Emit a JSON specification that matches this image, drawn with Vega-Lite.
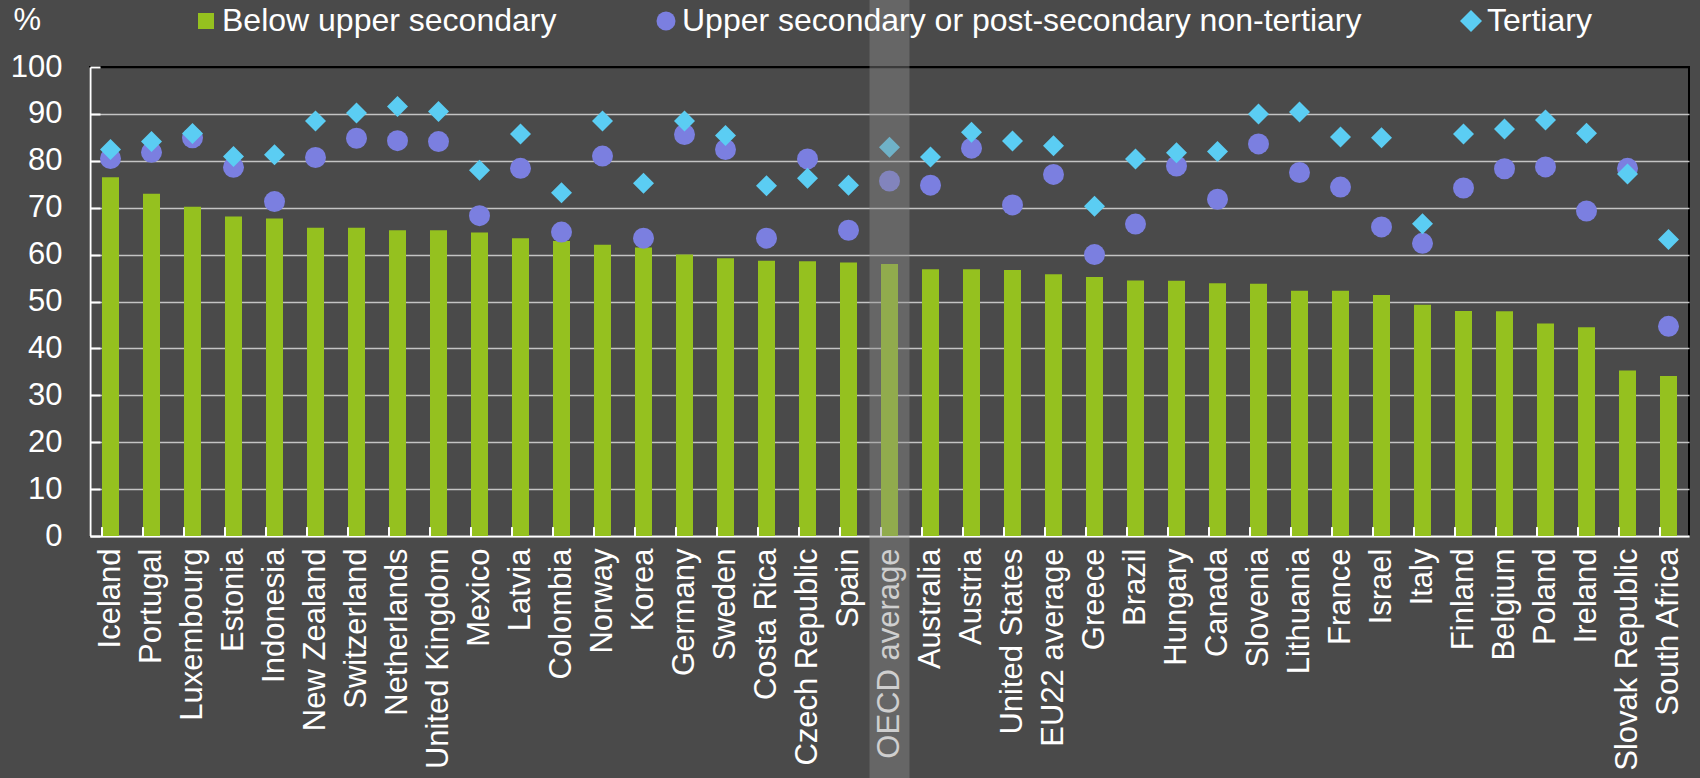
{
  "$schema": "https://vega.github.io/schema/vega-lite/v6.json",
  "width": 1599,
  "height": 469,
  "autosize": "none",
  "padding": {"left": 90, "top": 67, "right": 11, "bottom": 242},
  "background": "#4a4a4a",
  "config": {
    "font": "Liberation Sans",
    "view": {"fill": "#4a4a4a", "stroke": "#000000", "strokeWidth": 2}
  },
  "data": {
    "values": [
      {"country": "Iceland", "below": 76.5, "upper": 80.5, "tertiary": 82.4},
      {"country": "Portugal", "below": 73.0, "upper": 81.8, "tertiary": 84.1},
      {"country": "Luxembourg", "below": 70.2, "upper": 84.9, "tertiary": 85.8},
      {"country": "Estonia", "below": 68.1, "upper": 78.6, "tertiary": 80.9},
      {"country": "Indonesia", "below": 67.7, "upper": 71.3, "tertiary": 81.3},
      {"country": "New Zealand", "below": 65.7, "upper": 80.7, "tertiary": 88.5},
      {"country": "Switzerland", "below": 65.7, "upper": 84.8, "tertiary": 90.2},
      {"country": "Netherlands", "below": 65.2, "upper": 84.3, "tertiary": 91.6},
      {"country": "United Kingdom", "below": 65.2, "upper": 84.1, "tertiary": 90.5},
      {"country": "Mexico", "below": 64.7, "upper": 68.3, "tertiary": 78.0},
      {"country": "Latvia", "below": 63.5, "upper": 78.4, "tertiary": 85.7},
      {"country": "Colombia", "below": 62.9, "upper": 64.8, "tertiary": 73.2},
      {"country": "Norway", "below": 62.1, "upper": 81.0, "tertiary": 88.5},
      {"country": "Korea", "below": 61.5, "upper": 63.5, "tertiary": 75.2},
      {"country": "Germany", "below": 60.0, "upper": 85.6, "tertiary": 88.5},
      {"country": "Sweden", "below": 59.2, "upper": 82.4, "tertiary": 85.4},
      {"country": "Costa Rica", "below": 58.7, "upper": 63.5, "tertiary": 74.7},
      {"country": "Czech Republic", "below": 58.6, "upper": 80.4, "tertiary": 76.3},
      {"country": "Spain", "below": 58.3, "upper": 65.2, "tertiary": 74.8},
      {"country": "OECD average", "below": 58.0, "upper": 75.7, "tertiary": 82.9},
      {"country": "Australia", "below": 56.9, "upper": 74.8, "tertiary": 80.8},
      {"country": "Austria", "below": 56.9, "upper": 82.7, "tertiary": 86.1},
      {"country": "United States", "below": 56.7, "upper": 70.6, "tertiary": 84.2},
      {"country": "EU22 average", "below": 55.8, "upper": 77.1, "tertiary": 83.2},
      {"country": "Greece", "below": 55.2, "upper": 60.0, "tertiary": 70.3},
      {"country": "Brazil", "below": 54.5, "upper": 66.5, "tertiary": 80.4},
      {"country": "Hungary", "below": 54.4, "upper": 78.9, "tertiary": 81.7},
      {"country": "Canada", "below": 53.9, "upper": 71.8, "tertiary": 82.0},
      {"country": "Slovenia", "below": 53.8, "upper": 83.6, "tertiary": 90.0},
      {"country": "Lithuania", "below": 52.3, "upper": 77.5, "tertiary": 90.4},
      {"country": "France", "below": 52.3, "upper": 74.4, "tertiary": 85.1},
      {"country": "Israel", "below": 51.4, "upper": 65.9, "tertiary": 84.9},
      {"country": "Italy", "below": 49.3, "upper": 62.4, "tertiary": 66.6},
      {"country": "Finland", "below": 48.0, "upper": 74.2, "tertiary": 85.7},
      {"country": "Belgium", "below": 47.9, "upper": 78.3, "tertiary": 86.8},
      {"country": "Poland", "below": 45.3, "upper": 78.7, "tertiary": 88.7},
      {"country": "Ireland", "below": 44.5, "upper": 69.3, "tertiary": 85.9},
      {"country": "Slovak Republic", "below": 35.3, "upper": 78.4, "tertiary": 77.2},
      {"country": "South Africa", "below": 34.1, "upper": 44.7, "tertiary": 63.2}
    ]
  },
  "transform": [
    {"fold": ["below", "upper", "tertiary"], "as": ["key", "value"]}
  ],
  "encoding": {
    "x": {
      "field": "country",
      "type": "nominal",
      "sort": null,
      "scale": {"paddingInner": 0.585, "paddingOuter": 0.2925},
      "axis": {
        "title": null,
        "labelAngle": -90,
        "labelAlign": "right",
        "labelBaseline": "middle",
        "labelFontSize": 31,
        "labelColor": "#ffffff",
        "labelPadding": 12,
        "labelLimit": 400,
        "ticks": false,
        "grid": false,
        "domainColor": "#ffffff",
        "domainWidth": 2
      }
    }
  },
  "layer": [
    {
      "transform": [{"filter": "datum.key == 'below'"}],
      "mark": {"type": "bar"},
      "encoding": {
        "y": {
          "field": "value",
          "type": "quantitative",
          "scale": {"domain": [0, 100], "nice": false},
          "axis": {
            "title": "%",
            "titleAngle": 0,
            "titleX": -77,
            "titleY": -47,
            "titleAlign": "left",
            "titleBaseline": "middle",
            "titleFontSize": 31,
            "titleFontWeight": "normal",
            "titleColor": "#ffffff",
            "values": [0, 10, 20, 30, 40, 50, 60, 70, 80, 90, 100],
            "labelFontSize": 31,
            "labelColor": "#ffffff",
            "labelPadding": 38,
            "grid": true,
            "gridColor": {"condition": {"test": "datum.value == 100", "value": "#000000"}, "value": "#c4c4c4"},
            "gridWidth": 1.5,
            "domainColor": "#ffffff",
            "domainWidth": 2,
            "tickColor": "#ffffff",
            "tickSize": -10,
            "tickWidth": 2
          }
        },
        "color": {
          "field": "key",
          "type": "nominal",
          "scale": {"domain": ["below", "upper", "tertiary"], "range": ["#95c11f", "#7b7fe0", "#5bcdf3"]},
          "legend": {
            "title": null,
            "orient": "none",
            "legendX": 100,
            "legendY": -62,
            "direction": "horizontal",
            "labelFontSize": 32,
            "labelColor": "#ffffff",
            "labelLimit": 1000,
            "labelOffset": 0,
            "symbolSize": 400,
            "symbolOpacity": 1,
            "symbolStrokeWidth": 0,
            "columnPadding": 93,
            "padding": 0,
            "labelExpr": "datum.value == 'below' ? 'Below upper secondary' : datum.value == 'upper' ? 'Upper secondary or post-secondary non-tertiary' : 'Tertiary'",
            "encode": {"symbols": {"update": {"size": {"signal": "datum.value == 'below' ? 256 : datum.value == 'upper' ? 361 : 484"}}}}
          }
        }
      }
    },
    {
      "transform": [{"filter": "datum.key != 'below'"}],
      "mark": {"type": "point", "filled": true, "opacity": 1, "size": 441, "strokeWidth": 0},
      "encoding": {
        "y": {"field": "value", "type": "quantitative"},
        "color": {"field": "key", "type": "nominal"},
        "shape": {
          "field": "key",
          "type": "nominal",
          "scale": {"domain": ["below", "upper", "tertiary"], "range": ["square", "circle", "diamond"]},
          "legend": {
            "title": null,
            "orient": "none",
            "legendX": 100,
            "legendY": -62,
            "direction": "horizontal",
            "labelFontSize": 32,
            "labelColor": "#ffffff",
            "labelLimit": 1000,
            "labelOffset": 0,
            "symbolSize": 400,
            "symbolOpacity": 1,
            "symbolStrokeWidth": 0,
            "columnPadding": 93,
            "padding": 0,
            "labelExpr": "datum.value == 'below' ? 'Below upper secondary' : datum.value == 'upper' ? 'Upper secondary or post-secondary non-tertiary' : 'Tertiary'",
            "encode": {"symbols": {"update": {"size": {"signal": "datum.value == 'below' ? 256 : datum.value == 'upper' ? 361 : 484"}}}}
          }
        }
      }
    },
    {
      "transform": [{"filter": "datum.key == 'below'"}],
      "mark": {"type": "rule", "color": "#ffffff", "strokeWidth": 2},
      "encoding": {
        "x": {"field": "country", "type": "nominal", "sort": null, "bandPosition": 0},
        "y": {"datum": 0},
        "y2": {"datum": 1.9}
      }
    },
    {
      "transform": [{"filter": "datum.key == 'below' && datum.country == 'OECD average'"}],
      "mark": {"type": "bar", "color": "#8c8c8c", "opacity": 0.42, "width": {"band": 2.35}},
      "encoding": {
        "y": {"datum": -60},
        "y2": {"datum": 120}
      }
    }
  ]
}
